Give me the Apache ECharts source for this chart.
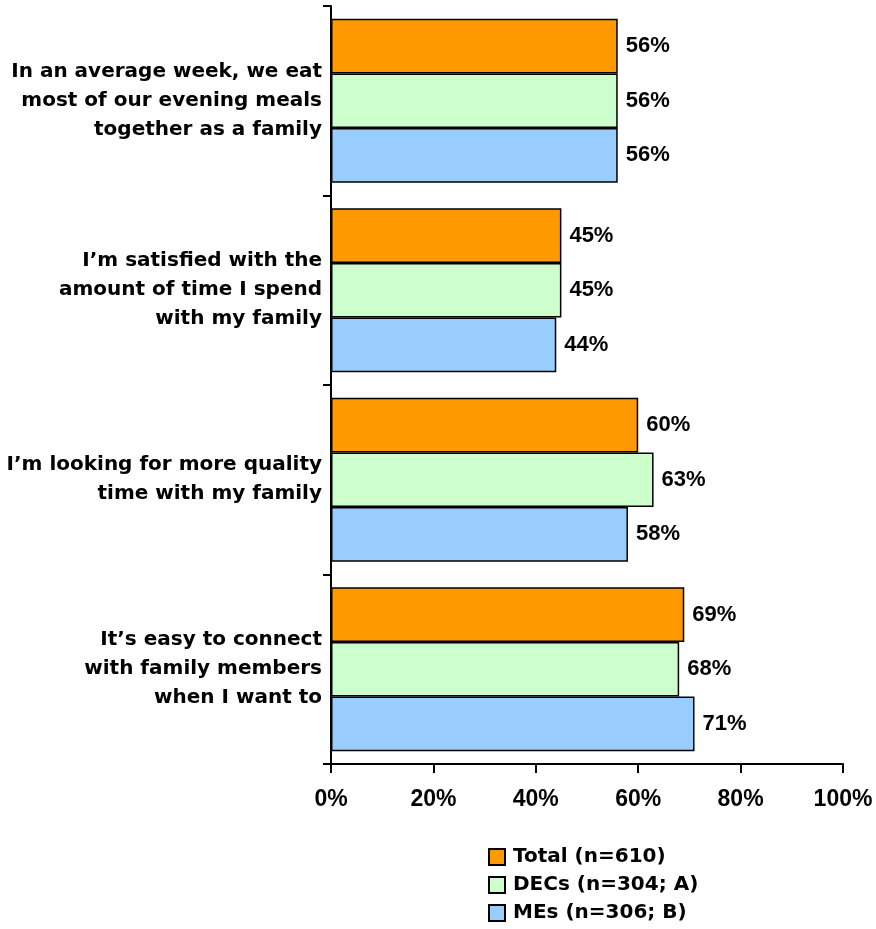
<!DOCTYPE html>
<html>
<head>
<meta charset="utf-8">
<script src="https://cdn.jsdelivr.net/npm/echarts@6/dist/echarts.min.js"></script>
<style>
  html, body { margin: 0; padding: 0; background: #ffffff; }
  #chart { width: 876px; height: 929px; }
</style>
</head>
<body>
<div id="chart"></div>
<script>
// Survey statements, listed top to bottom
const categories = [
  'In an average week, we eat\nmost of our evening meals\ntogether as a family',
  'I\u2019m satisfied with the\namount of time I spend\nwith my family',
  'I\u2019m looking for more quality\ntime with my family',
  'It\u2019s easy to connect\nwith family members\nwhen I want to'
];

const seriesNames = ['Total (n=610)', 'DECs (n=304; A)', 'MEs (n=306; B)'];

// Percent agreeing, per group
const totalValues = [56, 45, 60, 69];
const decValues = [56, 45, 63, 68];
const meValues = [56, 44, 58, 71];

const xTicks = [0, 20, 40, 60, 80, 100];

const colors = ['#FF9900', '#CCFFCC', '#99CCFF'];
const numFont = '"Liberation Sans", Arial, sans-serif';
const textFont = '"DejaVu Sans", "Liberation Sans", sans-serif';

function barSeries(name, data, color) {
  return {
    name: name,
    type: 'bar',
    data: data,
    barGap: '0%',
    barCategoryGap: '13.5%',
    itemStyle: { color: color, borderColor: '#000000', borderWidth: 1.5 },
    label: {
      show: true,
      position: 'right',
      distance: 8,
      formatter: '{c}%',
      color: '#000000',
      fontFamily: numFont,
      fontWeight: 'bold',
      fontSize: 22
    },
    emphasis: { disabled: true }
  };
}

const chart = echarts.init(document.getElementById('chart'), null, { renderer: 'canvas' });
chart.setOption({
  animation: false,
  backgroundColor: '#ffffff',
  grid: { left: 331, right: 33, top: 6, bottom: 165, containLabel: false },
  xAxis: {
    type: 'value',
    min: xTicks[0],
    max: xTicks[xTicks.length - 1],
    interval: 20,
    axisLine: { show: true, lineStyle: { color: '#000000', width: 2 } },
    axisTick: { show: true, length: 9, lineStyle: { color: '#000000', width: 2 } },
    splitLine: { show: false },
    axisLabel: {
      margin: 24,
      formatter: '{value}%',
      color: '#000000',
      fontFamily: numFont,
      fontWeight: 'bold',
      fontSize: 23
    }
  },
  yAxis: {
    type: 'category',
    inverse: true,
    data: categories,
    axisLine: { show: true, lineStyle: { color: '#000000', width: 2 } },
    axisTick: { show: true, length: 8, lineStyle: { color: '#000000', width: 2 } },
    axisLabel: {
      margin: 9,
      color: '#000000',
      fontFamily: textFont,
      fontWeight: 'bold',
      fontSize: 20,
      lineHeight: 29,
      align: 'right',
      padding: [6, 0, 0, 0]
    }
  },
  legend: {
    orient: 'vertical',
    left: 488,
    top: 847,
    width: 300,
    height: 200,
    padding: 0,
    itemWidth: 16,
    itemHeight: 16,
    itemGap: 8,
    icon: 'rect',
    data: seriesNames,
    textStyle: {
      color: '#000000',
      fontFamily: textFont,
      fontWeight: 'bold',
      fontSize: 20,
      lineHeight: 16,
      padding: [0, 0, 0, 3]
    }
  },
  series: [
    barSeries(seriesNames[0], totalValues, colors[0]),
    barSeries(seriesNames[1], decValues, colors[1]),
    barSeries(seriesNames[2], meValues, colors[2])
  ]
});
</script>
</body>
</html>
